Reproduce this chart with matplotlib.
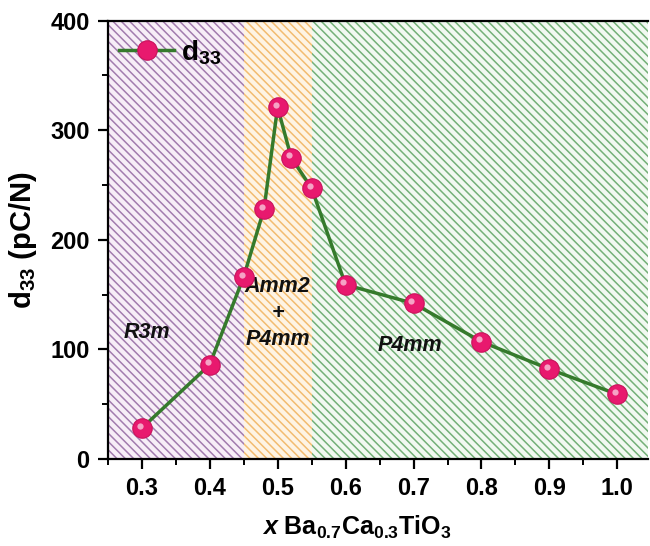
import matplotlib
matplotlib.use("Agg")
import matplotlib.pyplot as plt
import matplotlib.transforms as mtransforms
from matplotlib.ticker import MultipleLocator

plt.rcParams['font.family'] = ['Liberation Sans', 'DejaVu Sans']
plt.rcParams['font.weight'] = 'bold'
plt.rcParams['axes.labelweight'] = 'bold'
plt.rcParams['mathtext.fontset'] = 'custom'
plt.rcParams['mathtext.rm'] = 'Liberation Sans:bold'
plt.rcParams['mathtext.it'] = 'Liberation Sans:bold:italic'
plt.rcParams['mathtext.bf'] = 'Liberation Sans:bold'
plt.rcParams['hatch.linewidth'] = 1.1

# data
x_vals = [0.30, 0.40, 0.45, 0.48, 0.50, 0.52, 0.55, 0.60, 0.70, 0.80, 0.90, 1.00]
d33 = [28, 86, 166, 228, 321, 275, 247, 159, 142, 107, 82, 59]
region_bounds = [(0.25, 0.45), (0.45, 0.55), (0.55, 1.045)]
region_face = ['#f7eef7', '#fef4e4', '#f1f9f1']
region_hatch = ['#a27cae', '#f2bc70', '#74b078']
region_labels = ['R3m', 'Amm2\n+\nP4mm', 'P4mm']
region_label_pos = [(0.307, 115), (0.50, 133), (0.695, 104)]
x_ticks = [0.3, 0.4, 0.5, 0.6, 0.7, 0.8, 0.9, 1.0]
y_ticks = [0, 100, 200, 300, 400]

fig = plt.figure(figsize=(6.5, 5.46), dpi=100)
ax = fig.add_axes([0.1657, 0.1593, 0.8312, 0.8031])

for (a, b), fc, hc in zip(region_bounds, region_face, region_hatch):
    ax.axvspan(a, b, facecolor=fc, edgecolor=hc, hatch='\\\\\\\\', linewidth=0, zorder=0)

for lab, (px, py) in zip(region_labels, region_label_pos):
    ax.text(px, py, lab, ha='center', va='center', fontsize=15.5,
            fontweight='bold', fontstyle='italic', color='#111111',
            linespacing=1.35, zorder=3)

ax.plot(x_vals, d33, color='#357a2c', lw=2.5, marker='o', markersize=14,
        markerfacecolor='#e8196e', markeredgecolor='#c9125c', markeredgewidth=0.8,
        label='d$_{33}$', zorder=4)
off = mtransforms.offset_copy(ax.transData, fig=fig, x=-1.5, y=1.8, units='points')
ax.plot(x_vals, d33, linestyle='none', marker='o', markersize=4.5,
        markerfacecolor='#f7b3cf', markeredgewidth=0, alpha=0.9,
        transform=off, zorder=5)

ax.set_xlim(0.25, 1.045)
ax.set_ylim(0, 400)
ax.set_xticks(x_ticks)
ax.set_xticklabels([f'{v:.1f}' for v in x_ticks])
ax.set_yticks(y_ticks)
ax.xaxis.set_minor_locator(MultipleLocator(0.05))
ax.yaxis.set_minor_locator(MultipleLocator(50))
ax.tick_params(which='major', direction='out', length=7, width=1.6, labelsize=17, pad=6)
ax.tick_params(which='minor', direction='out', length=4, width=1.4)
ax.tick_params(top=False, right=False, which='both')
for s in ['left', 'bottom', 'top']:
    ax.spines[s].set_linewidth(1.6)
ax.spines['right'].set_visible(False)

ax.set_xlabel('$\\it{x}$ Ba$_{0.7}$Ca$_{0.3}$TiO$_{3}$', fontsize=18)
ax.xaxis.set_label_coords(0.46, -0.125)
ax.set_ylabel('d$_{33}$ (pC/N)', fontsize=21, labelpad=8)

leg = ax.legend(loc='upper left', frameon=False, fontsize=20, handlelength=2.0,
                borderaxespad=0.1, handletextpad=0.25, borderpad=0.3,
                bbox_to_anchor=(0.0, 0.985))

fig.savefig('out.png', dpi=100)
